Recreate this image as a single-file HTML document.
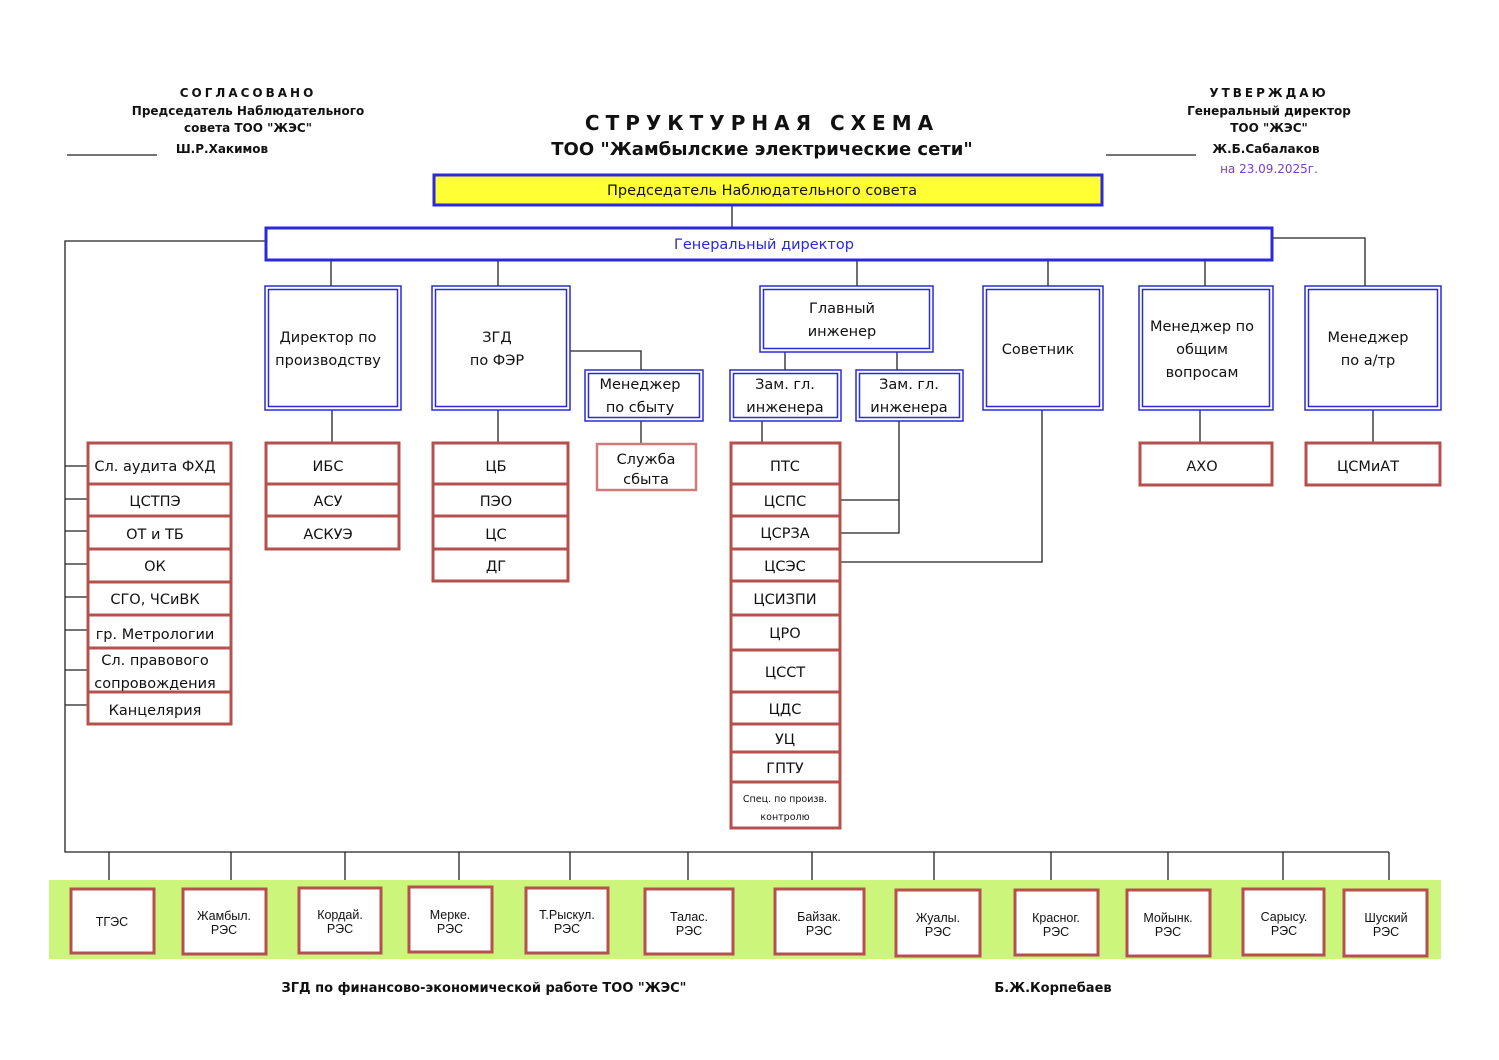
<!DOCTYPE html>
<html><head><meta charset="utf-8"><style>
html,body{margin:0;padding:0;background:#fff;}
svg{display:block}
text{font-family:"DejaVu Sans","Liberation Sans",sans-serif;text-anchor:middle;fill:#111;}
.t{font-size:14.5px;}
.h{font-size:12px;font-weight:bold;}
.s{font-family:"Liberation Sans",sans-serif;font-size:12.5px;}
.r{fill:#fff;stroke:#b5504c;stroke-width:3;}
.o{fill:#fff;stroke:#2a2ad8;stroke-width:1.5;}
.i{fill:none;stroke:#2a2ad8;stroke-width:1.5;}
.l{stroke:#222;stroke-width:1.3;fill:none;}
</style></head><body>
<svg width="1499" height="1060" viewBox="0 0 1499 1060" xmlns="http://www.w3.org/2000/svg">
<text class="h" x="248" y="97" style="letter-spacing:3px">СОГЛАСОВАНО</text>
<text class="h" x="248" y="115">Председатель Наблюдательного</text>
<text class="h" x="248" y="132">совета ТОО "ЖЭС"</text>
<text class="h" x="222" y="153">Ш.Р.Хакимов</text>
<line x1="67" y1="155" x2="157" y2="155" stroke="#222" stroke-width="1.3"/>
<text class="h" x="1269" y="97" style="letter-spacing:3px">УТВЕРЖДАЮ</text>
<text class="h" x="1269" y="115">Генеральный директор</text>
<text class="h" x="1269" y="132">ТОО "ЖЭС"</text>
<text class="h" x="1266" y="153">Ж.Б.Сабалаков</text>
<text x="1269" y="173" style="font-size:12px;fill:#7a3fc0">на 23.09.2025г.</text>
<line x1="1106" y1="155" x2="1196" y2="155" stroke="#222" stroke-width="1.3"/>
<text x="762" y="130" style="font-size:20px;font-weight:bold;letter-spacing:6px">СТРУКТУРНАЯ  СХЕМА</text>
<text x="762" y="155" style="font-size:18px;font-weight:bold">ТОО "Жамбылские электрические сети"</text>

<g class="l">
<path d="M732 205V227"/>
<path d="M265 241H65V852H1389"/>
<path d="M1273 238H1365V288"/>
<path d="M331 260V286M498 260V286M857 260V286M1048 260V286M1205 260V286"/>
<path d="M570 351H641V370"/>
<path d="M785 352V370M897 352V370"/>
<path d="M641 421V443"/>
<path d="M332 410V443M498 410V443M762 421V443M1200 410V443M1373 410V443"/>
<path d="M899 421V533H840M899 500H840"/>
<path d="M1042 410V562H840"/>
<path d="M65 466H88M65 499H88M65 531H88M65 564H88M65 597H88M65 630H88M65 670H88M65 705H88"/>
<path d="M109 852V888M231 852V888M345 852V888M459 852V888M570 852V888M688 852V888M812 852V888M934 852V888M1051 852V888M1168 852V888M1283 852V888M1389 852V888"/>
</g>

<rect x="434" y="175" width="668" height="30" fill="#ffff33" stroke="#2a2ad8" stroke-width="3"/>
<text class="t" x="762" y="195">Председатель Наблюдательного совета</text>
<rect x="266" y="228" width="1006" height="32" fill="#fff" stroke="#2a2ad8" stroke-width="3"/>
<text class="t" x="764" y="249" style="fill:#2a2ad8">Генеральный директор</text>

<g>
<rect class="o" x="265" y="286" width="136" height="124"/><rect class="i" x="268.5" y="289.5" width="129" height="117"/>
<rect class="o" x="432" y="286" width="138" height="124"/><rect class="i" x="435.5" y="289.5" width="131" height="117"/>
<rect class="o" x="760" y="286" width="173" height="66"/><rect class="i" x="763.5" y="289.5" width="166" height="59"/>
<rect class="o" x="983" y="286" width="120" height="124"/><rect class="i" x="986.5" y="289.5" width="113" height="117"/>
<rect class="o" x="1139" y="286" width="134" height="124"/><rect class="i" x="1142.5" y="289.5" width="127" height="117"/>
<rect class="o" x="1305" y="286" width="136" height="124"/><rect class="i" x="1308.5" y="289.5" width="129" height="117"/>
<rect class="o" x="585" y="370" width="118" height="51"/><rect class="i" x="588.5" y="373.5" width="111" height="44"/>
<rect class="o" x="730" y="370" width="111" height="51"/><rect class="i" x="733.5" y="373.5" width="104" height="44"/>
<rect class="o" x="856" y="370" width="107" height="51"/><rect class="i" x="859.5" y="373.5" width="100" height="44"/>
</g>
<text class="t" x="328" y="342">Директор по</text><text class="t" x="328" y="365">производству</text>
<text class="t" x="497" y="342">ЗГД</text><text class="t" x="497" y="365">по ФЭР</text>
<text class="t" x="842" y="313">Главный</text><text class="t" x="842" y="336">инженер</text>
<text class="t" x="1038" y="354">Советник</text>
<text class="t" x="1202" y="331">Менеджер по</text><text class="t" x="1202" y="354">общим</text><text class="t" x="1202" y="377">вопросам</text>
<text class="t" x="1368" y="342">Менеджер</text><text class="t" x="1368" y="365">по а/тр</text>
<text class="t" x="640" y="389">Менеджер</text><text class="t" x="640" y="412">по сбыту</text>
<text class="t" x="785" y="389">Зам. гл.</text><text class="t" x="785" y="412">инженера</text>
<text class="t" x="909" y="389">Зам. гл.</text><text class="t" x="909" y="412">инженера</text>

<rect x="597" y="444" width="99" height="46" fill="#fff" stroke="#d27a78" stroke-width="2.5"/>
<text class="t" x="646" y="464">Служба</text><text class="t" x="646" y="484">сбыта</text>

<g>
<rect class="r" x="88" y="443" width="143" height="281"/>
<path class="r" d="M88 484H231M88 516H231M88 549H231M88 582H231M88 615H231M88 648H231M88 692H231"/>
<rect class="r" x="266" y="443" width="133" height="106"/>
<path class="r" d="M266 484H399M266 516H399"/>
<rect class="r" x="433" y="443" width="135" height="138"/>
<path class="r" d="M433 484H568M433 516H568M433 549H568"/>
<rect class="r" x="731" y="443" width="109" height="385"/>
<path class="r" d="M731 484H840M731 516H840M731 549H840M731 581H840M731 615H840M731 650H840M731 692H840M731 724H840M731 752H840M731 782H840"/>
<rect class="r" x="1140" y="443" width="132" height="42"/>
<rect class="r" x="1306" y="443" width="134" height="42"/>
</g>
<text class="t" x="155" y="471">Сл. аудита ФХД</text>
<text class="t" x="155" y="506">ЦСТПЭ</text>
<text class="t" x="155" y="539">ОТ и ТБ</text>
<text class="t" x="155" y="571">ОК</text>
<text class="t" x="155" y="604">СГО, ЧСиВК</text>
<text class="t" x="155" y="639">гр. Метрологии</text>
<text class="t" x="155" y="665">Сл. правового</text>
<text class="t" x="155" y="688">сопровождения</text>
<text class="t" x="155" y="715">Канцелярия</text>
<text class="t" x="328" y="471">ИБС</text><text class="t" x="328" y="506">АСУ</text><text class="t" x="328" y="539">АСКУЭ</text>
<text class="t" x="496" y="471">ЦБ</text><text class="t" x="496" y="506">ПЭО</text><text class="t" x="496" y="539">ЦС</text><text class="t" x="496" y="571">ДГ</text>
<text class="t" x="785" y="471">ПТС</text>
<text class="t" x="785" y="506">ЦСПС</text>
<text class="t" x="785" y="538">ЦСРЗА</text>
<text class="t" x="785" y="571">ЦСЭС</text>
<text class="t" x="785" y="604">ЦСИЗПИ</text>
<text class="t" x="785" y="638">ЦРО</text>
<text class="t" x="785" y="677">ЦССТ</text>
<text class="t" x="785" y="714">ЦДС</text>
<text class="t" x="785" y="744">УЦ</text>
<text class="t" x="785" y="773">ГПТУ</text>
<text x="785" y="802" style="font-size:9.5px">Спец. по произв.</text>
<text x="785" y="820" style="font-size:9.5px">контролю</text>
<text class="t" x="1202" y="471">АХО</text>
<text class="t" x="1368" y="471">ЦСМиАТ</text>

<rect x="49" y="880" width="1392" height="79" fill="#ccf57c"/>
<g>
<rect class="r" x="71" y="889" width="83" height="64"/>
<rect class="r" x="183" y="889" width="83" height="65"/>
<rect class="r" x="299" y="888" width="82" height="65"/>
<rect class="r" x="409" y="887" width="83" height="65"/>
<rect class="r" x="526" y="888" width="82" height="65"/>
<rect class="r" x="645" y="889" width="88" height="65"/>
<rect class="r" x="775" y="889" width="89" height="65"/>
<rect class="r" x="896" y="890" width="84" height="66"/>
<rect class="r" x="1015" y="890" width="83" height="65"/>
<rect class="r" x="1127" y="890" width="83" height="66"/>
<rect class="r" x="1243" y="889" width="81" height="66"/>
<rect class="r" x="1344" y="890" width="83" height="66"/>
</g>
<text class="s" x="112" y="926">ТГЭС</text>
<text class="s" x="224" y="920">Жамбыл.</text><text class="s" x="224" y="934">РЭС</text>
<text class="s" x="340" y="919">Кордай.</text><text class="s" x="340" y="933">РЭС</text>
<text class="s" x="450" y="919">Мерке.</text><text class="s" x="450" y="933">РЭС</text>
<text class="s" x="567" y="919">Т.Рыскул.</text><text class="s" x="567" y="933">РЭС</text>
<text class="s" x="689" y="921">Талас.</text><text class="s" x="689" y="935">РЭС</text>
<text class="s" x="819" y="921">Байзак.</text><text class="s" x="819" y="935">РЭС</text>
<text class="s" x="938" y="922">Жуалы.</text><text class="s" x="938" y="936">РЭС</text>
<text class="s" x="1056" y="922">Красног.</text><text class="s" x="1056" y="936">РЭС</text>
<text class="s" x="1168" y="922">Мойынк.</text><text class="s" x="1168" y="936">РЭС</text>
<text class="s" x="1284" y="921">Сарысу.</text><text class="s" x="1284" y="935">РЭС</text>
<text class="s" x="1386" y="922">Шуский</text><text class="s" x="1386" y="936">РЭС</text>

<text class="h" x="484" y="992" style="font-size:13px">ЗГД по  финансово-экономической работе ТОО "ЖЭС"</text>
<text class="h" x="1053" y="992" style="font-size:13px">Б.Ж.Корпебаев</text>
</svg>
</body></html>
